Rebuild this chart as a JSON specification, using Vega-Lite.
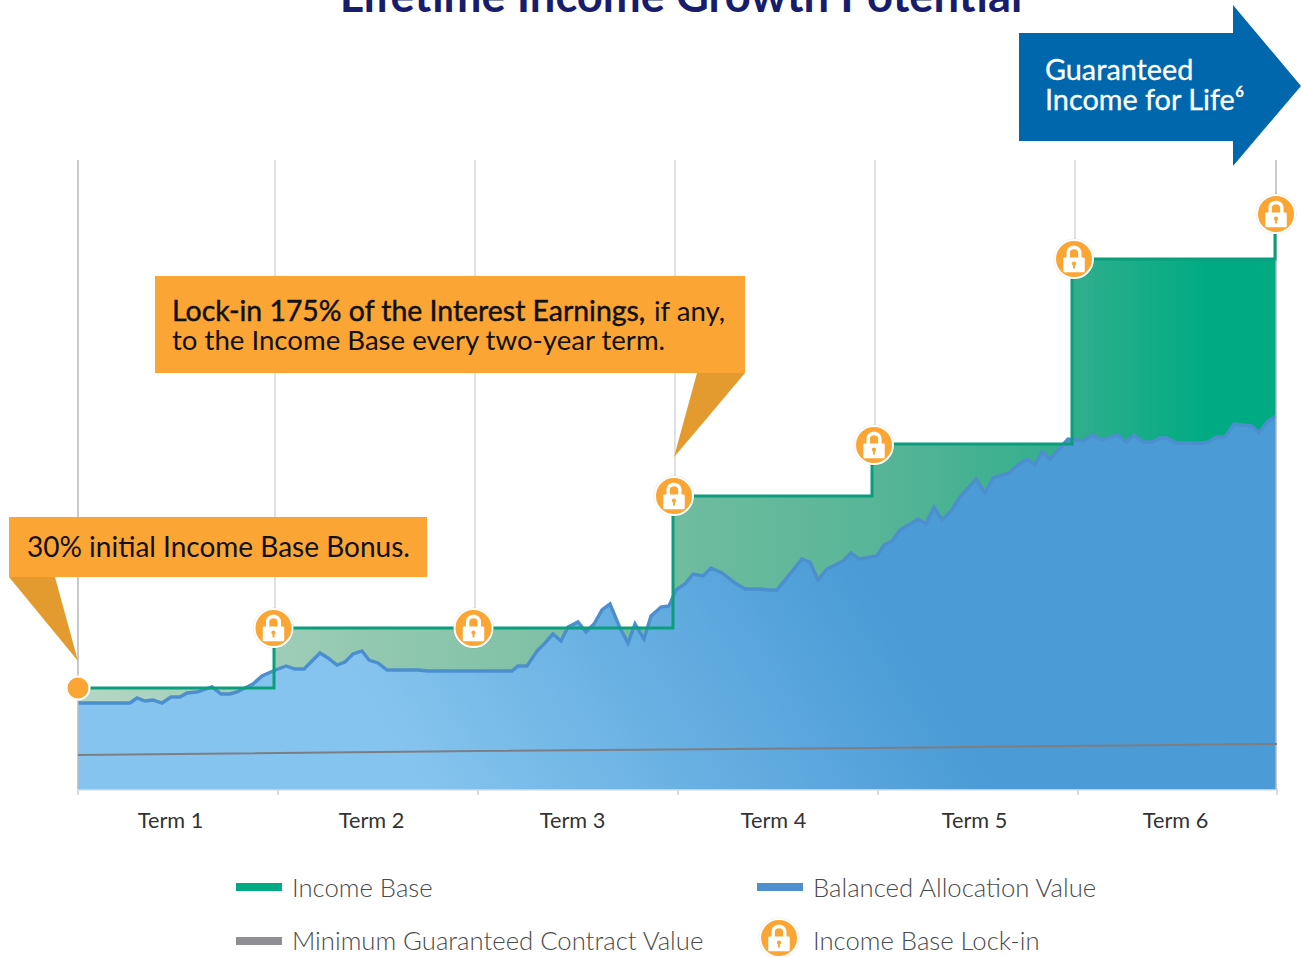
{"$schema":"https://vega.github.io/schema/vega-lite/v6.json","width":1199,"height":631,"autosize":{"type":"none"},"padding":{"left":78,"top":158,"right":24,"bottom":168},"background":"white","config":{"view":{"stroke":null},"font":"Lato"},
"datasets":{
"gridLines":[{"x":0,"y":0,"y2":629},{"x":197,"y":0,"y2":629},{"x":397,"y":0,"y2":629},{"x":597,"y":0,"y2":629},{"x":797,"y":0,"y2":629},{"x":997,"y":0,"y2":629},{"x":1198,"y":0,"y2":629}],
"tickMarks":[{"x":0,"y":0,"y2":-6},{"x":200,"y":0,"y2":-6},{"x":400,"y":0,"y2":-6},{"x":600,"y":0,"y2":-6},{"x":800,"y":0,"y2":-6},{"x":1000,"y":0,"y2":-6},{"x":1199,"y":0,"y2":-6}],
"incomeLine":[{"x":0,"y":101},{"x":196,"y":161},{"x":595,"y":293},{"x":794,"y":345},{"x":994,"y":530},{"x":1197,"y":576}],
"incomeArea":[{"x":0,"y":101},{"x":196,"y":161},{"x":595,"y":293},{"x":794,"y":345},{"x":994,"y":530},{"x":1198,"y":530}],
"balanced":[{"x":0,"y":86},{"x":52,"y":86},{"x":59,"y":91},{"x":67,"y":88},{"x":75,"y":89},{"x":84,"y":86},{"x":93,"y":92},{"x":102,"y":92},{"x":109,"y":96},{"x":119,"y":97},{"x":134,"y":102},{"x":143,"y":95},{"x":152,"y":95},{"x":159,"y":97},{"x":167,"y":101},{"x":175,"y":105},{"x":184,"y":113},{"x":195,"y":118},{"x":208,"y":123},{"x":217,"y":120},{"x":226,"y":120},{"x":242,"y":136},{"x":250,"y":131},{"x":259,"y":124},{"x":267,"y":127},{"x":275,"y":135},{"x":284,"y":138},{"x":291,"y":129},{"x":300,"y":126},{"x":309,"y":119},{"x":340,"y":119},{"x":350,"y":118},{"x":434,"y":118},{"x":440,"y":123},{"x":449,"y":123},{"x":459,"y":138},{"x":467,"y":146},{"x":475,"y":155},{"x":483,"y":148},{"x":490,"y":162},{"x":500,"y":167},{"x":508,"y":157},{"x":516,"y":165},{"x":524,"y":179},{"x":532,"y":185},{"x":542,"y":161},{"x":550,"y":146},{"x":557,"y":165},{"x":566,"y":150},{"x":573,"y":173},{"x":583,"y":182},{"x":591,"y":183},{"x":598,"y":199},{"x":607,"y":205},{"x":615,"y":215},{"x":625,"y":213},{"x":633,"y":221},{"x":644,"y":216},{"x":657,"y":206},{"x":667,"y":200},{"x":682,"y":200},{"x":690,"y":199},{"x":699,"y":199},{"x":724,"y":230},{"x":732,"y":227},{"x":740,"y":209},{"x":749,"y":220},{"x":757,"y":224},{"x":765,"y":228},{"x":773,"y":236},{"x":781,"y":230},{"x":799,"y":233},{"x":806,"y":244},{"x":814,"y":248},{"x":822,"y":259},{"x":832,"y":265},{"x":840,"y":270},{"x":848,"y":265},{"x":856,"y":282},{"x":864,"y":269},{"x":873,"y":278},{"x":882,"y":292},{"x":898,"y":310},{"x":907,"y":296},{"x":915,"y":311},{"x":931,"y":316},{"x":940,"y":324},{"x":949,"y":330},{"x":957,"y":324},{"x":964,"y":337},{"x":972,"y":330},{"x":990,"y":350},{"x":1005,"y":348},{"x":1014,"y":354},{"x":1024,"y":349},{"x":1040,"y":354},{"x":1048,"y":347},{"x":1056,"y":354},{"x":1065,"y":347},{"x":1074,"y":347},{"x":1082,"y":351},{"x":1089,"y":351},{"x":1098,"y":346},{"x":1125,"y":346},{"x":1130,"y":347},{"x":1139,"y":352},{"x":1147,"y":352},{"x":1156,"y":365},{"x":1174,"y":363},{"x":1181,"y":356},{"x":1189,"y":367},{"x":1198,"y":373}],
"minimum":[{"x":0,"y":34},{"x":400,"y":38},{"x":800,"y":41},{"x":1199,"y":45}],
"locks":[{"x":195.5,"y":161},{"x":395.5,"y":161},{"x":596,"y":293},{"x":796,"y":344},{"x":996,"y":530},{"x":1198,"y":575},{"x":701,"y":-149}],
"start":[{"x":0,"y":101}],
"boxes":[{"x":77,"x2":667,"y":513,"y2":416},{"x":-69,"x2":349,"y":272,"y2":212}],
"pointers":[{"c":"a","x":-69,"y":212,"y2":212},{"c":"a","x":-23,"y":212,"y2":156},{"c":"a","x":0,"y":128,"y2":128},{"c":"b","x":596,"y":332,"y2":332},{"c":"b","x":619,"y":416,"y2":359},{"c":"b","x":667,"y":416,"y2":416}],
"arrowShape":[{"x":941,"y":756,"y2":648},{"x":1155,"y":756,"y2":648},{"x":1155,"y":784,"y2":623},{"x":1223,"y":703,"y2":703}],
"calloutText":[{"x":576,"y":468,"t":"if any,"},{"x":94,"y":439,"t":"to the Income Base every two-year term."}],
"calloutLarge":[{"x":-51,"y":232,"t":"30% initial Income Base Bonus."}],
"calloutBold":[{"x":94,"y":468,"t":"Lock-in 175% of the Interest Earnings,"}],
"arrowText":[{"x":967,"y":709,"t":"Guaranteed"},{"x":967,"y":679,"t":"Income for Life⁶"}],
"titleText":[{"x":603,"y":777,"t":"Lifetime Income Growth Potential"}],
"legendSwatch":[{"series":"Income Base","x":158,"x2":204,"y":-94,"y2":-102,"lx":214,"ly":-108},{"series":"Balanced Allocation Value","x":679,"x2":725,"y":-94,"y2":-102,"lx":735,"ly":-108},{"series":"Minimum Guaranteed Contract Value","x":158,"x2":204,"y":-148,"y2":-156,"lx":214,"ly":-161}],
"legendLock":[{"x":735,"y":-161,"t":"Income Base Lock-in"}]
},
"encoding":{"x":{"field":"x","type":"quantitative","scale":{"domain":[0,1199],"nice":false,"zero":false},"axis":{"title":null,"values":[92,293,494,695,896,1097],"labelExpr":"'Term ' + (indexof([92,293,494,695,896,1097],datum.value)+1)","ticks":false,"grid":false,"labelFontSize":21.7,"labelColor":"#333333","labelPadding":21,"labelFlush":false,"labelOverlap":false,"domainColor":"#cfcfd2","domainWidth":2}},"y":{"field":"y","type":"quantitative","scale":{"domain":[0,631],"nice":false,"zero":false},"axis":null}},
"layer":[
{"data":{"name":"gridLines"},"mark":{"type":"rule","color":"#d2d2d4","strokeWidth":1.3},"encoding":{"y2":{"field":"y2"}}},
{"data":{"name":"tickMarks"},"mark":{"type":"rule","color":"#d2d2d4","strokeWidth":1.5},"encoding":{"y2":{"field":"y2"}}},
{"data":{"name":"incomeArea"},"mark":{"type":"area","interpolate":"step-after","fill":{"gradient":"linear","x1":0,"y1":0,"x2":1,"y2":0,"stops":[{"offset":0,"color":"#b4d7c4"},{"offset":0.27,"color":"#8fc7ae"},{"offset":0.5,"color":"#70bc9f"},{"offset":0.67,"color":"#57b597"},{"offset":0.83,"color":"#31ae8c"},{"offset":0.94,"color":"#00ab84"},{"offset":1,"color":"#00ab84"}]}},"encoding":{"y2":{"datum":0}}},
{"data":{"name":"balanced"},"mark":{"type":"area","fill":{"gradient":"linear","x1":0.29,"y1":1,"x2":0.75,"y2":0.91,"stops":[{"offset":0,"color":"#85c4ee"},{"offset":1,"color":"#4a9bd6"}]}},"encoding":{"y2":{"datum":0}}},
{"data":{"name":"balanced"},"mark":{"type":"line","color":"#4c8fcf","strokeWidth":3.4}},
{"data":{"name":"gridLines"},"transform":[{"filter":"datum.x==0||datum.x==1198"}],"mark":{"type":"rule","color":"#b8bcc2","strokeWidth":1.3},"encoding":{"y2":{"field":"y2"}}},
{"data":{"name":"incomeLine"},"mark":{"type":"line","interpolate":"step-after","color":"#0a9e7c","strokeWidth":3}},
{"data":{"name":"minimum"},"mark":{"type":"line","color":"#7d7e84","strokeWidth":2}},
{"data":{"name":"pointers"},"mark":{"type":"area","fill":"#e39b2f"},"encoding":{"y2":{"field":"y2"},"detail":{"field":"c"}}},
{"data":{"name":"boxes"},"mark":{"type":"rect","fill":"#fba634"},"encoding":{"x2":{"field":"x2"},"y2":{"field":"y2"}}},
{"data":{"name":"arrowShape"},"mark":{"type":"area","fill":"#0067ac"},"encoding":{"y2":{"field":"y2"}}},
{"data":{"name":"locks"},"mark":{"type":"point","filled":true,"shape":"circle","size":1681,"color":"#000000","opacity":0.1}},
{"data":{"name":"locks"},"mark":{"type":"point","filled":true,"shape":"circle","size":1444,"fill":"#fba634","stroke":"#ffffff","strokeWidth":2,"opacity":1}},
{"data":{"name":"locks"},"mark":{"type":"point","filled":true,"size":1024,"color":"#ffffff","opacity":1,"shape":"M-0.47,-0.1 L-0.47,-0.4 C-0.47,-0.98 0.47,-0.98 0.47,-0.4 L0.47,-0.1 L0.6,-0.1 Q0.67,-0.1 0.67,-0.03 L0.67,0.76 Q0.67,0.83 0.6,0.83 L-0.6,0.83 Q-0.67,0.83 -0.67,0.76 L-0.67,-0.03 Q-0.67,-0.1 -0.6,-0.1 Z M-0.26,-0.1 L0.26,-0.1 L0.26,-0.4 C0.26,-0.68 -0.26,-0.68 -0.26,-0.4 Z M0,0.16 C-0.08,0.16 -0.13,0.22 -0.13,0.29 C-0.13,0.34 -0.1,0.38 -0.06,0.4 L-0.06,0.6 L0.06,0.6 L0.06,0.4 C0.1,0.38 0.13,0.34 0.13,0.29 C0.13,0.22 0.08,0.16 0,0.16 Z"}},
{"data":{"name":"start"},"mark":{"type":"point","filled":true,"shape":"circle","size":529,"fill":"#fba634","stroke":"#ffffff","strokeWidth":2,"opacity":1}},
{"data":{"name":"calloutText"},"mark":{"type":"text","align":"left","baseline":"alphabetic","fontSize":27.6,"color":"#111111"},"encoding":{"text":{"field":"t"}}},
{"data":{"name":"calloutLarge"},"mark":{"type":"text","align":"left","baseline":"alphabetic","fontSize":28,"color":"#111111"},"encoding":{"text":{"field":"t"}}},
{"data":{"name":"calloutBold"},"mark":{"type":"text","align":"left","baseline":"alphabetic","fontSize":28.4,"color":"#111111","stroke":"#111111","strokeWidth":0.45},"encoding":{"text":{"field":"t"}}},
{"data":{"name":"arrowText"},"mark":{"type":"text","align":"left","baseline":"alphabetic","fontSize":28.8,"color":"#ffffff","stroke":"#ffffff","strokeWidth":0.3},"encoding":{"text":{"field":"t"}}},
{"data":{"name":"titleText"},"mark":{"type":"text","align":"center","baseline":"alphabetic","fontSize":45.3,"fontWeight":700,"color":"#171c6b"},"encoding":{"text":{"field":"t"}}},
{"data":{"name":"legendSwatch"},"mark":{"type":"rect"},"encoding":{"x2":{"field":"x2"},"y2":{"field":"y2"},"color":{"field":"series","type":"nominal","legend":null,"scale":{"domain":["Income Base","Balanced Allocation Value","Minimum Guaranteed Contract Value"],"range":["#00ab84","#4f8fce","#8e8e93"]}}}},
{"data":{"name":"legendSwatch"},"mark":{"type":"text","align":"left","baseline":"alphabetic","fontSize":25.7,"fontWeight":300,"color":"#4a4a4a"},"encoding":{"x":{"field":"lx","type":"quantitative"},"y":{"field":"ly","type":"quantitative"},"text":{"field":"series"}}},
{"data":{"name":"legendLock"},"mark":{"type":"text","align":"left","baseline":"alphabetic","fontSize":25.7,"fontWeight":300,"color":"#4a4a4a"},"encoding":{"text":{"field":"t"}}}
]}
